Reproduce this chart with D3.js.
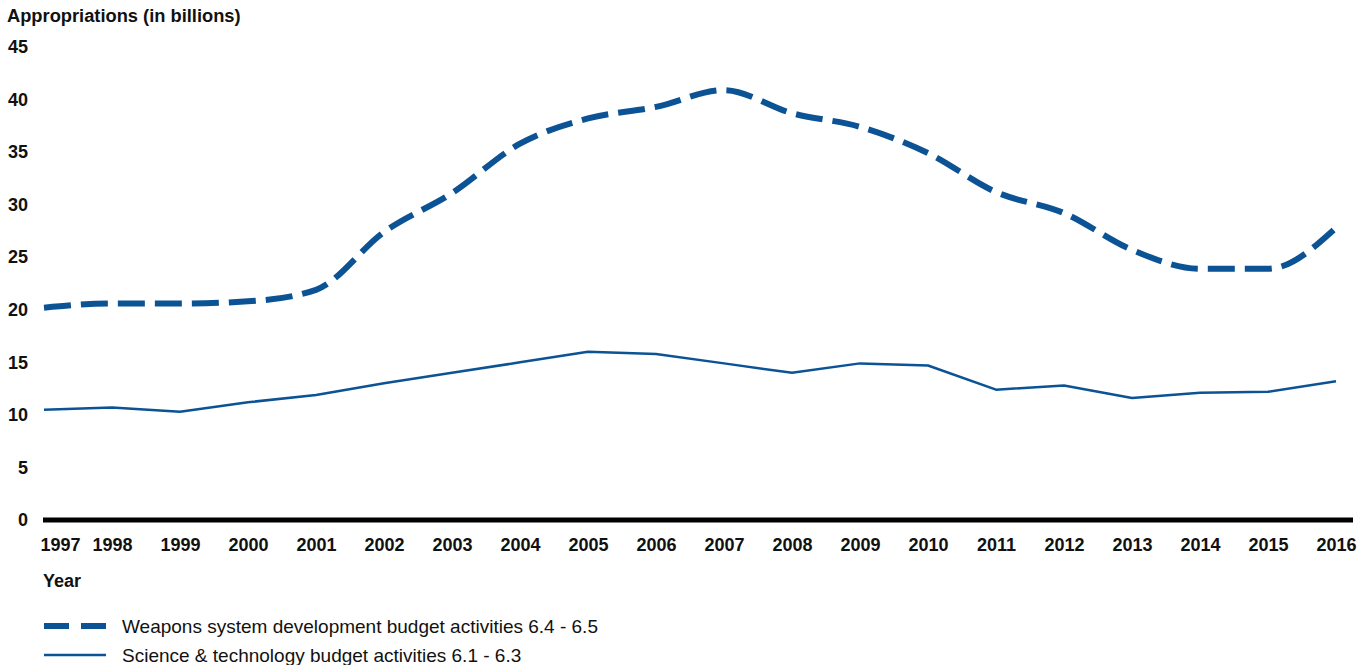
<!DOCTYPE html>
<html>
<head>
<meta charset="utf-8">
<script src="https://cdn.jsdelivr.net/npm/d3@7"></script>
<style>
  html, body { margin: 0; padding: 0; background: #fff; }
  svg { display: block; font-family: "Liberation Sans", Arial, sans-serif; }
</style>
</head>
<body>
<svg id="chart" width="1363" height="665"></svg>
<script>
const years = [1997,1998,1999,2000,2001,2002,2003,2004,2005,2006,2007,2008,2009,2010,2011,2012,2013,2014,2015,2016];
const weaponsValues = [20.2,20.6,20.6,20.8,21.9,27.4,31.1,35.8,38.2,39.3,40.9,38.7,37.4,34.9,31.2,29.2,25.7,23.9,23.9,27.8];
const scienceValues = [10.5,10.7,10.3,11.2,11.9,13.0,14.0,15.0,16.0,15.8,14.9,14.0,14.9,14.7,12.4,12.8,11.6,12.1,12.2,13.2];
const yTicks = [0,5,10,15,20,25,30,35,40,45];
const seriesNames = ["Weapons system development budget activities 6.4 - 6.5", "Science & technology budget activities 6.1 - 6.3"];
const yTitle = "Appropriations (in billions)";
const xTitle = "Year";

const color = "#0b5394";
const svg = d3.select("#chart");

const x = d3.scalePoint().domain(years).range([44, 1336]);
const y = d3.scaleLinear().domain([0, 45]).range([520, 47]);

// y axis title
svg.append("text").attr("x", 7).attr("y", 22)
  .attr("font-size", 18.3).attr("font-weight", "bold").attr("fill", "#111")
  .text(yTitle);

// y axis labels
const yAxis = d3.axisLeft(y).tickValues(yTicks).tickSize(0).tickPadding(0).tickFormat(d3.format("d"));
const gy = svg.append("g").attr("transform", "translate(28,0)").call(yAxis);
gy.select(".domain").remove();
gy.selectAll("text").attr("font-size", 18).attr("font-weight", "bold").attr("fill", "#111")
  .attr("font-family", "Liberation Sans, Arial, sans-serif");

// x axis baseline
svg.append("line").attr("x1", 43).attr("x2", 1353).attr("y1", y(0)).attr("y2", y(0))
  .attr("stroke", "#000").attr("stroke-width", 5);

// x labels
const xAxis = d3.axisBottom(x).tickSize(0).tickPadding(0).tickFormat(d3.format("d"));
const gx = svg.append("g").attr("transform", "translate(0,538)").call(xAxis);
gx.select(".domain").remove();
gx.selectAll("text").attr("font-size", 18).attr("font-weight", "bold").attr("fill", "#111")
  .attr("font-family", "Liberation Sans, Arial, sans-serif")
  .attr("text-anchor", (d, i) => i === 0 ? "start" : "middle")
  .attr("x", (d, i) => i === 0 ? -4 : 0);

svg.append("text").attr("x", 43).attr("y", 587)
  .attr("font-size", 18).attr("font-weight", "bold").attr("fill", "#111")
  .text(xTitle);

// lines
const weaponsLine = d3.line().x((d, i) => x(years[i])).y(d => y(d)).curve(d3.curveMonotoneX);
const scienceLine = d3.line().x((d, i) => x(years[i])).y(d => y(d));

svg.append("path").datum(weaponsValues).attr("d", weaponsLine)
  .attr("fill", "none").attr("stroke", color).attr("stroke-width", 6)
  .attr("stroke-dasharray", "27,10");
svg.append("path").datum(scienceValues).attr("d", scienceLine)
  .attr("fill", "none").attr("stroke", color).attr("stroke-width", 2.5)
  .attr("stroke-linejoin", "round");

// legend
const legend = svg.append("g");
const legendY = [626, 655];
legend.append("line").attr("x1", 44).attr("x2", 106).attr("y1", legendY[0]).attr("y2", legendY[0])
  .attr("stroke", color).attr("stroke-width", 6).attr("stroke-dasharray", "25,12");
legend.append("line").attr("x1", 44).attr("x2", 106).attr("y1", legendY[1]).attr("y2", legendY[1])
  .attr("stroke", color).attr("stroke-width", 2.5);
seriesNames.forEach((name, i) => {
  legend.append("text").attr("x", 122).attr("y", legendY[i]).attr("dy", "0.35em")
    .attr("font-size", 19).attr("fill", "#111").text(name);
});
</script>
</body>
</html>
